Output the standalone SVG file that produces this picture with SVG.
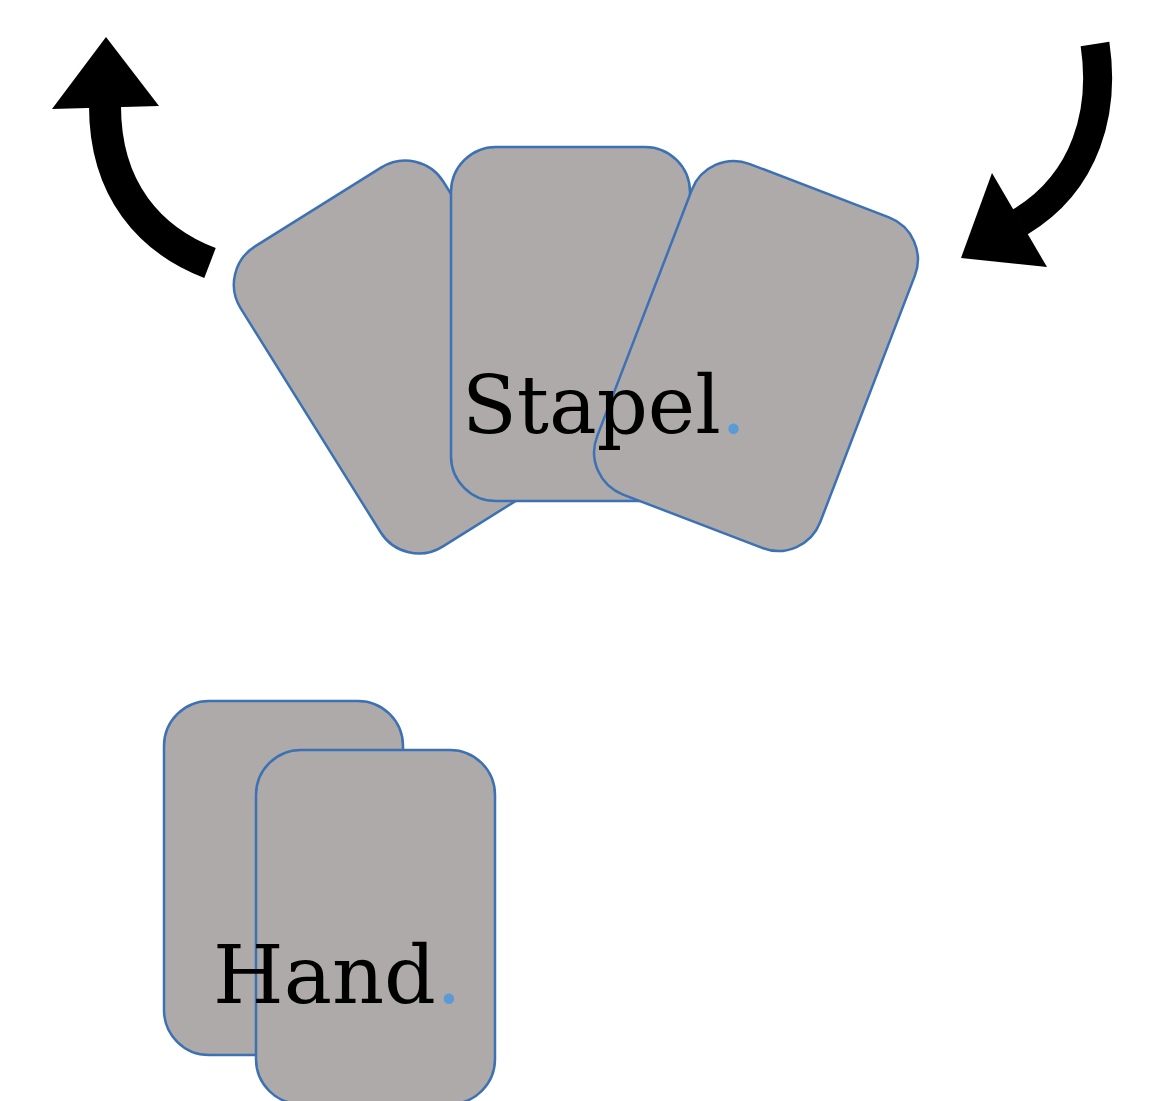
<svg xmlns="http://www.w3.org/2000/svg" width="1165" height="1101" viewBox="0 0 1165 1101">
  <style>
    .card { fill: #aeaaaa; stroke: #3c72b4; stroke-width: 2.5; }
    .label { font-family: "DejaVu Serif", "Liberation Serif", serif; fill: #000000; }
    .dot { fill: #5b9bd5; }
    .shaft { fill: none; stroke: #000000; stroke-linecap: butt; }
    .head { fill: #000000; }
  </style>
  <rect width="1165" height="1101" fill="#ffffff"/>

  <!-- deck: three fanned cards -->
  <g id="stapel">
    <rect class="card" x="-119.5" y="-177" width="239" height="354" rx="45" transform="translate(412 357) rotate(-32)"/>
    <rect class="card" x="451" y="147" width="239" height="354" rx="45"/>
    <rect class="card" x="-119.5" y="-177" width="239" height="354" rx="45" transform="translate(756 356) rotate(21)"/>
    <text class="label" x="462" y="433" style="font-size:80px">Stapel<tspan class="dot">.</tspan></text>
  </g>

  <!-- hand: two overlapping cards -->
  <g id="hand">
    <rect class="card" x="164" y="701" width="239" height="354" rx="45"/>
    <rect class="card" x="256" y="750" width="239" height="354" rx="45"/>
    <text class="label" x="213" y="1003" style="font-size:81px">Hand<tspan class="dot">.</tspan></text>
  </g>

  <!-- curved arrows -->
  <g id="connectors">
    <g id="arrow-out">
      <path class="shaft" stroke-width="32" d="M 210,263 C 150,240 105,190 105,106"/>
      <polygon class="head" points="106,37 52,109 159,106"/>
    </g>
    <g id="arrow-in">
      <path class="shaft" stroke-width="29" d="M 1095,44 C 1105,110 1087,182 1020,222"/>
      <polygon class="head" points="961,258 992,173 1047,267"/>
    </g>
  </g>
</svg>
